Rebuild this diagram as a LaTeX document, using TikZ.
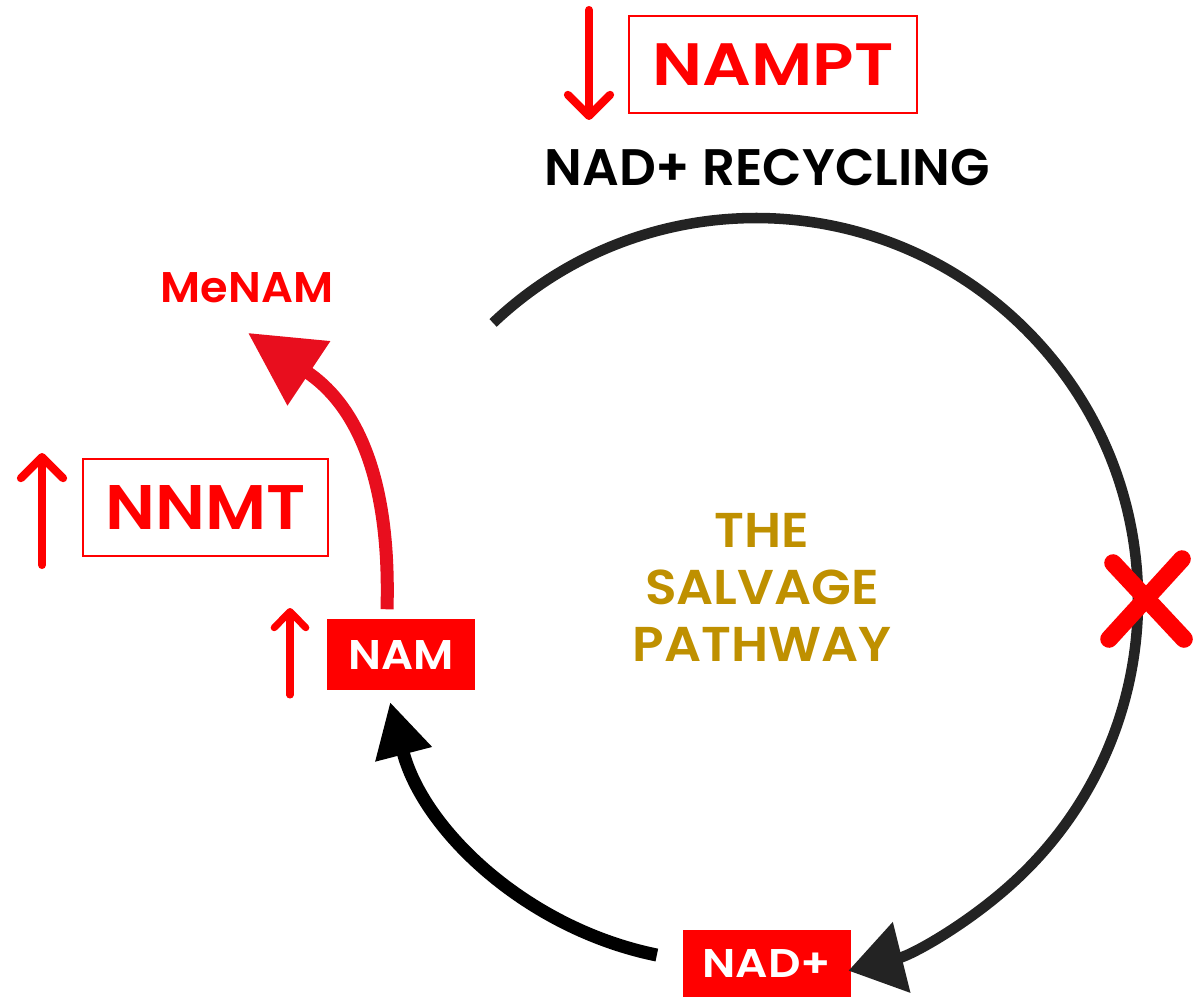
\documentclass[tikz,border=0pt]{standalone}
\usepackage{fontspec}
\setmainfont{Poppins}[UprightFont={* Medium}, BoldFont={* SemiBold}]
\usetikzlibrary{arrows.meta}
\definecolor{boxred}{RGB}{255,0,0}
\definecolor{curvered}{RGB}{232,14,30}
\definecolor{gold}{RGB}{191,144,0}
\definecolor{ring}{RGB}{35,35,35}
\newcommand{\wide}[2]{\fontsize{#1}{#1}\selectfont\bfseries\addfontfeature{FakeStretch=#2}}
\tikzset{
	enzyme/.style={draw=boxred, line width=0.45pt, text=boxred, inner sep=0pt},
	metab/.style={fill=boxred, text=white, inner sep=0pt},
	bigchev/.style={draw=boxred, line width=2.3pt, line cap=round, -{Straight Barb[length=6pt,width=12pt,round]}},
	smallchev/.style={draw=boxred, line width=2pt, line cap=round, -{Straight Barb[length=4.6pt,width=9pt,round]}},
	crossbar/.style={draw=boxred, line width=5pt, line cap=round}
}
\begin{document}
\begin{tikzpicture}[x=0.01cm,y=-0.01cm]
				\useasboundingbox (0,0) rectangle (1204,997);
				% labels
				\node[enzyme, minimum width=2.88cm, minimum height=0.97cm, font=\wide{17}{1.14}] (nampt) at (773,64.5) {NAMPT};
				\node[font=\wide{14.6}{1.0}] (recycling) at (767,168) {NAD+ RECYCLING};
				\node[text=boxred, inner sep=0pt, font=\wide{12.2}{1.04}] (menam) at (247,288) {MeNAM};
				\node[enzyme, minimum width=2.45cm, minimum height=0.97cm, font=\wide{17.9}{1.08}] (nnmt) at (205.5,507.5) {NNMT};
				\node[metab, minimum width=1.48cm, minimum height=0.71cm, font=\wide{11.8}{1.08}] (nam) at (401,654.5) {NAM};
				\node[metab, minimum width=1.68cm, minimum height=0.67cm, font=\wide{11.4}{1.13}] (nad) at (767,963.5) {NAD+};
				\node[text=gold, align=center, anchor=north, inner sep=0pt, font=\fontsize{13.9}{16.1}\selectfont\bfseries\addfontfeature{FakeStretch=1.06}] (salvage) at (762,513) {THE\\SALVAGE\\PATHWAY};
				% up and down marks
				\draw[bigchev] (589,10)--(589,120);
				\draw[bigchev] (42,565)--(42,453);
				\draw[smallchev] (290,695)--(290,608);
				% the cycle
				\coordinate (hub) at (756,600);
				\coordinate (lowhub) at (726,615);
				\draw[ring, line width=3pt, -{Triangle[length=15.6pt,width=20pt]}] (hub) ++(-133.5:382) arc[start angle=-133.5, end angle=76, radius=382];
				\draw[black, line width=3.7pt, -{Triangle[length=15.4pt,width=15.6pt]}] (lowhub) ++(101.5:347) arc[start angle=101.5, end angle=165.5, radius=347];
				\draw[curvered, line width=3.7pt, -{Triangle[length=20.8pt,width=21pt]}] ([shift={(-14,-9)}]nam.north) .. controls (391,470) and (352,402) .. ([shift={(1,29)}]menam.south);
				% blocked step
				\draw[crossbar] (1113,563)--(1184,639);
				\draw[crossbar] (1182,559)--(1109,639);
\end{tikzpicture}
\end{document}
